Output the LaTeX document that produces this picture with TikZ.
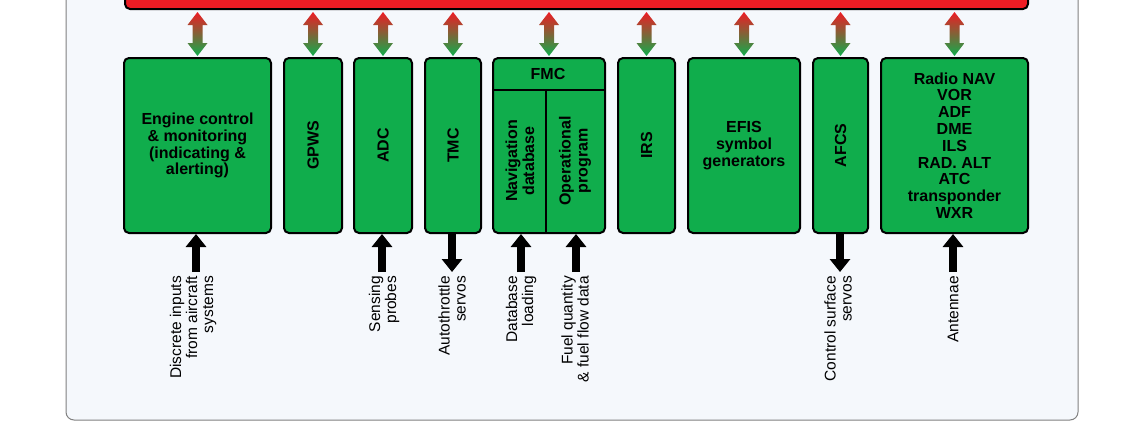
\documentclass[tikz,border=0pt]{standalone}
\usepackage{fontspec}
\setmainfont{Liberation Sans}
\usetikzlibrary{positioning,calc,arrows.meta}
\definecolor{boxgreen}{RGB}{16,173,76}
\definecolor{busred}{RGB}{237,28,36}
\definecolor{panel}{RGB}{245,248,252}
\tikzset{
  unit/.style={draw=black, line width=2pt, rounded corners=5pt, fill=boxgreen, inner sep=0pt, font=\bfseries\fontsize{16}{16.8}\selectfont, align=center, anchor=north west},
  io/.style={line width=8pt, -{Triangle[width=20pt,length=13pt]}},
  tag/.style={rotate=90, anchor=east, align=right, font=\fontsize{15.5}{16}\selectfont, inner sep=0pt}
}
\begin{document}
\begin{tikzpicture}[x=1pt,y=-1pt]
    \useasboundingbox (0,0) rectangle (1143,434);
    \draw[gray, line width=1pt, fill=panel, rounded corners=8pt] (66,-30) rectangle (1078,420);
    \node[draw=black, line width=2pt, rounded corners=5pt, fill=busred, minimum width=903pt, minimum height=40pt, anchor=south west] (Bus) at (124,10) {};

    % computer units
    \node[unit, minimum width=147pt, minimum height=175pt] (Eng) at (123,57) {Engine control\\\& monitoring\\(indicating \&\\alerting)};
    \node[unit, minimum width=58pt, minimum height=175pt] (GPWS) at (283,57) {\rotatebox{90}{GPWS}};
    \node[unit, minimum width=58pt, minimum height=175pt] (ADC) at (353,57) {\rotatebox{90}{ADC}};
    \node[unit, minimum width=56pt, minimum height=175pt] (TMC) at (424,57) {\rotatebox{90}{TMC}};
    \node[unit, minimum width=112pt, minimum height=175pt] (FMC) at (492,57) {};
    \node[unit, minimum width=57pt, minimum height=175pt] (IRS) at (617,57) {\rotatebox{90}{IRS}};
    \node[unit, minimum width=112pt, minimum height=175pt] (EFIS) at (687,57) {EFIS\\symbol\\generators};
    \node[unit, minimum width=55pt, minimum height=175pt] (AFCS) at (812,57) {\rotatebox{90}{AFCS}};
    \node[unit, minimum width=147pt, minimum height=175pt] (Radio) at (880,57) {Radio NAV\\VOR\\ADF\\DME\\ILS\\RAD. ALT\\ATC\\transponder\\WXR};

    % FMC inside
    \draw[line width=1.5pt] (492,90) -- (604,90);
    \draw[line width=1.5pt] (546,90) -- (FMC.south -| 546,0);
    \node[font=\bfseries\fontsize{16}{16}\selectfont] (FMCt) at (548,74) {FMC};
    \node[font=\bfseries\fontsize{16}{17}\selectfont, rotate=90, align=center] (Nav) at (520,161) {Navigation\\database};
    \node[font=\bfseries\fontsize{16}{17}\selectfont, rotate=90, align=center] (Ops) at (575,161) {Operational\\program};

    % bus links
    \foreach \u in {Eng,GPWS,ADC,TMC,FMC,IRS,EFIS,AFCS,Radio}{
      \path (\u.north) coordinate (b) (\u.north |- Bus.south) coordinate (t);
      \shade[top color=busred, bottom color=boxgreen]
        ($(t)+(0,2)$) -- ($(t)+(10,15)$) -- ($(t)+(5,15)$) -- ($(b)+(5,-14)$) -- ($(b)+(10,-14)$)
        -- ($(b)+(0,-1)$) -- ($(b)+(-10,-14)$) -- ($(b)+(-5,-14)$) -- ($(t)+(-5,15)$) -- ($(t)+(-10,15)$) -- cycle;
    }

    % inputs and outputs
    \coordinate (e1) at (196,272);
    \coordinate (e2) at (382,272);
    \coordinate (e3) at (452,272);
    \coordinate (e4) at (521,272);
    \coordinate (e5) at (576,272);
    \coordinate (e6) at (840,272);
    \coordinate (e7) at (953,272);
    \draw[io] (e1) -- (e1 |- Eng.south);
    \draw[io] (e2) -- (e2 |- ADC.south);
    \draw[io] (e3 |- TMC.south) -- (e3);
    \draw[io] (e4) -- (e4 |- FMC.south);
    \draw[io] (e5) -- (e5 |- FMC.south);
    \draw[io] (e6 |- AFCS.south) -- (e6);
    \draw[io] (e7) -- (e7 |- Radio.south);

    \node[tag] at (193,276) {Discrete inputs\\from aircraft\\systems};
    \node[tag] at (384,276) {Sensing\\probes};
    \node[tag] at (452,276) {Autothrottle\\servos};
    \node[tag] at (521,276) {Database\\loading};
    \node[tag] at (575,276) {Fuel quantity\\\& fuel flow data};
    \node[tag] at (838,276) {Control surface\\servos};
    \node[tag] at (953,276) {Antennae};
\end{tikzpicture}
\end{document}
